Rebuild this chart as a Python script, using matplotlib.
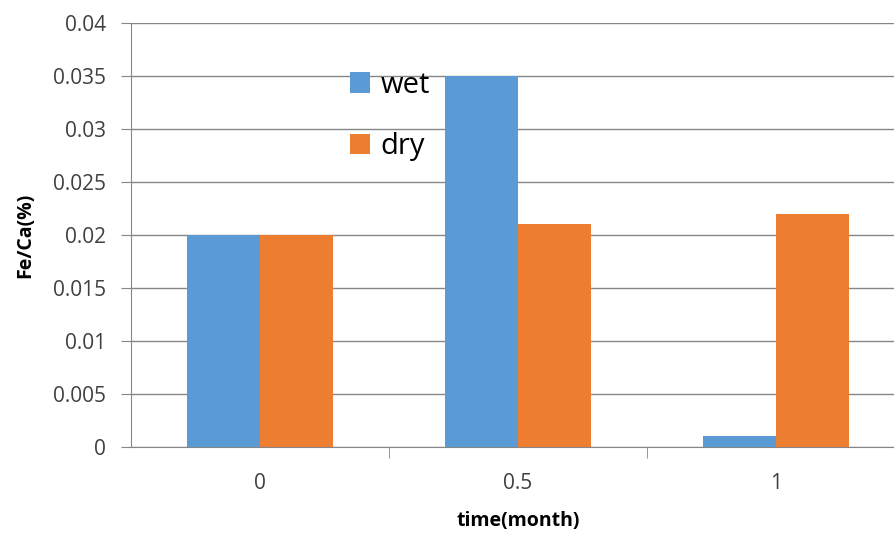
import matplotlib
matplotlib.use("Agg")
import matplotlib.pyplot as plt
import numpy as np

categories = ["0", "0.5", "1"]
wet = [0.02, 0.035, 0.001]
dry = [0.02, 0.021, 0.022]
yticks = [0, 0.005, 0.01, 0.015, 0.02, 0.025, 0.03, 0.035, 0.04]
ytick_labels = ["0", "0.005", "0.01", "0.015", "0.02", "0.025", "0.03", "0.035", "0.04"]

plt.rcParams['font.family'] = ['Open Sans', 'DejaVu Sans']

W, H = 895, 536
fig = plt.figure(figsize=(W/100, H/100), dpi=100)
ax = fig.add_axes([131/W, (H-447)/H, 774/W, 424/H])

x = np.arange(len(categories))
bw = 0.283
ax.bar(x - bw/2, wet, bw, color="#5B9BD5", label="wet", zorder=3)
ax.bar(x + bw/2, dry, bw, color="#ED7D31", label="dry", zorder=3)

ax.set_xlim(-0.5, 2.5)
ax.set_ylim(0, 0.04)
ax.set_yticks(yticks)
ax.set_yticklabels(ytick_labels, fontsize=15, color="#404040")
ax.set_xticks(x)
ax.set_xticklabels(categories, fontsize=15, color="#404040")
ax.tick_params(axis='x', length=0, pad=19)
ax.set_xticks([0.5, 1.5], minor=True)
ax.tick_params(axis='x', which='minor', length=8, color="#868686", direction='out')
ax.tick_params(axis='y', length=7, color="#868686", pad=11)

ax.yaxis.grid(True, color="#868686", linewidth=1, zorder=0)
for s in ["top", "right"]:
    ax.spines[s].set_visible(False)
ax.spines["left"].set_color("#868686")
ax.spines["bottom"].set_color("#868686")

ax.set_ylabel("Fe/Ca(%)", fontsize=14, fontweight="bold", labelpad=13)
ax.set_xlabel("time(month)", fontsize=14, fontweight="bold", labelpad=12)

leg = ax.legend(loc="upper left", bbox_to_anchor=(0.283, 0.887), frameon=False,
                fontsize=21, handlelength=0.7, handleheight=0.7, handletextpad=0.35,
                labelspacing=1.1, borderpad=0, borderaxespad=0)

fig.savefig("out.png", dpi=100)
